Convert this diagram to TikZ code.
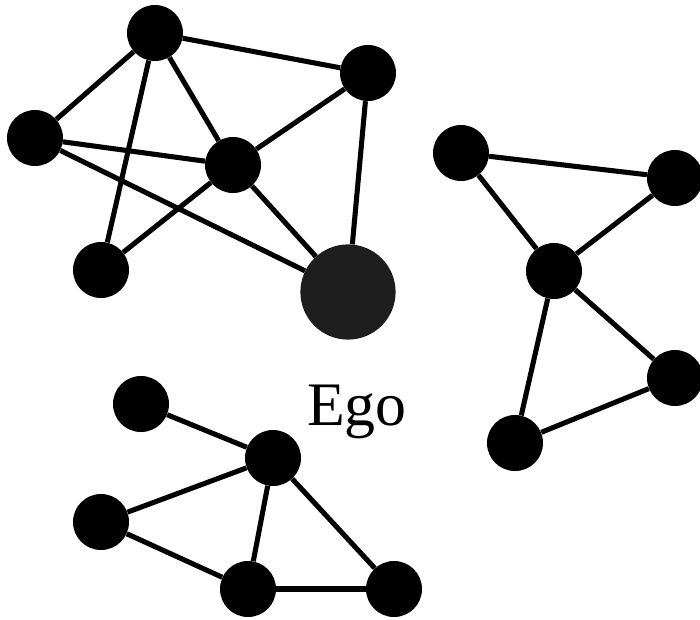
\documentclass[tikz,border=0pt]{standalone}
\usepackage{fontspec}
\setmainfont{Liberation Serif}
\usetikzlibrary{positioning}
\definecolor{egogrey}{HTML}{1E1E1E}

\begin{document}
\begin{tikzpicture}[x=0.025cm, y=-0.025cm,
    alter/.style={circle, fill=black, inner sep=0pt, minimum size=1.4cm},
    egonode/.style={circle, fill=egogrey, inner sep=0pt, minimum size=2.38cm},
    tie/.style={line width=3.6pt}]
  \useasboundingbox (0,0) rectangle (700,620);
  % the three clusters round ego
  \foreach \n/\x/\y in {a1/155/33, a2/368/73, a3/35/138, a4/233/165, a5/101/270,
                        b1/461/153, b2/675/178, b3/554/271, b4/675/378, b5/515/443,
                        c1/141/404, c2/273/458, c3/101/522, c4/248/589, c5/394/589}
    \node[alter] (\n) at (\x,\y) {};
  \node[egonode] (ego) at (348,292) {};
  \node[anchor=base, inner sep=0pt, font=\fontsize{44}{50}\selectfont] (egolabel) at (357,425) {Ego};
  % ties
  \foreach \s/\t in {a1/a2, a1/a3, a1/a5, a1/a4, a3/a4, a3/ego, a4/a2, a4/a5, a4/ego, a2/ego,
                     b1/b2, b1/b3, b2/b3, b3/b4, b3/b5, b5/b4,
                     c1/c2, c2/c3, c2/c4, c2/c5, c3/c4, c4/c5}
    \draw[tie] (\s) -- (\t);
\end{tikzpicture}
\end{document}
